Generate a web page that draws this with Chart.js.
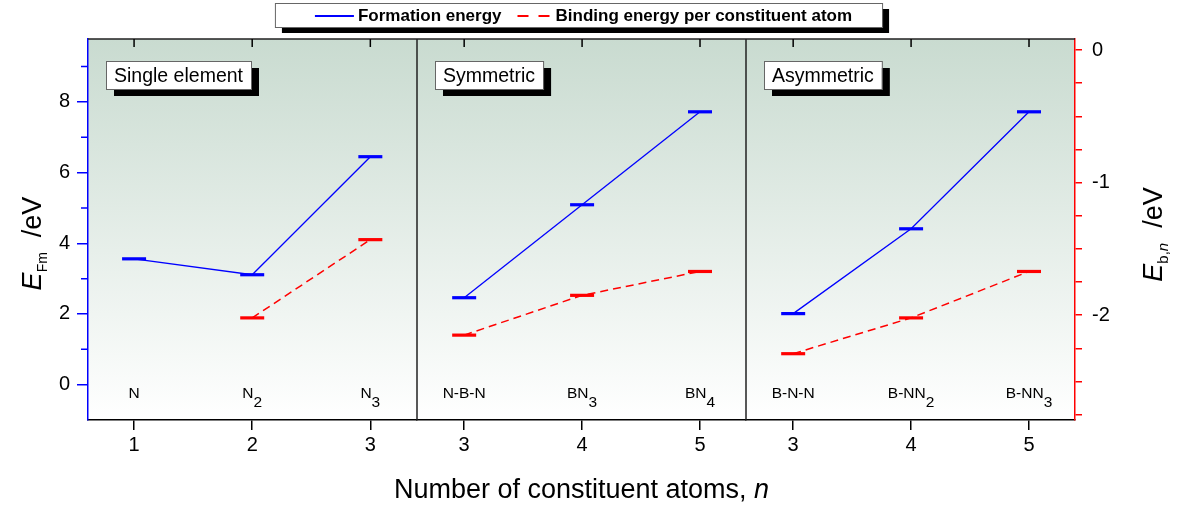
<!DOCTYPE html>
<html>
<head>
<meta charset="utf-8">
<script src="https://cdn.jsdelivr.net/npm/chart.js@4.4.3/dist/chart.umd.min.js"></script>
<style>
  html, body { margin: 0; padding: 0; background: #fff; }
</style>
</head>
<body>
<canvas id="energyChart" width="1178" height="507"></canvas>
<script>
// Cluster groups shown side by side
const panelNames = ['Single element', 'Symmetric', 'Asymmetric'];

// number of constituent atoms n in each group
const atomsSingle = [1, 2, 3];
const atomsSym = [3, 4, 5];
const atomsAsym = [3, 4, 5];

// species names (trailing digits are subscripts)
const speciesSingle = ['N', 'N2', 'N3'];
const speciesSym = ['N-B-N', 'BN3', 'BN4'];
const speciesAsym = ['B-N-N', 'B-NN2', 'B-NN3'];

// formation energy E_Fm, eV (left axis)
const formSingle = [3.56, 3.11, 6.45];
const formSym = [2.46, 5.09, 7.72];
const formAsym = [2.01, 4.41, 7.72];

// binding energy per constituent atom E_b,n, eV (right axis); none for a lone atom
const bindSingle = [null, -2.02, -1.43];
const bindSym = [-2.15, -1.85, -1.67];
const bindAsym = [-2.29, -2.02, -1.67];

const legendLabels = ['Formation energy', 'Binding energy per constituent atom'];
const xTitle = 'Number of constituent atoms, ';

const FONT = '"Liberation Sans", Arial, sans-serif';
const BLUE = '#0000ff';
const RED = '#ff0000';

const panelAtoms = [atomsSingle, atomsSym, atomsAsym];
const panelSpecies = [speciesSingle, speciesSym, speciesAsym];
const panelForm = [formSingle, formSym, formAsym];
const panelBind = [bindSingle, bindSym, bindAsym];
const panelRanges = [[0.61, 3.395], [2.6, 5.39], [2.6, 5.39]];

function points(xs, ys) {
  return xs.map((x, i) => ({ x: x, y: ys[i] }));
}

const datasets = [];
panelAtoms.forEach((atoms, i) => {
  datasets.push({
    label: legendLabels[0],
    data: points(atoms, panelForm[i]),
    xAxisID: 'x' + i,
    yAxisID: 'yF',
    borderColor: BLUE,
    borderWidth: 1.3,
    pointStyle: 'line',
    pointRadius: 12,
    pointBorderWidth: 3.2,
    pointBorderColor: BLUE
  });
  datasets.push({
    label: legendLabels[1],
    data: points(atoms, panelBind[i]),
    xAxisID: 'x' + i,
    yAxisID: 'yB',
    borderColor: RED,
    borderWidth: 1.5,
    borderDash: [8, 5],
    pointStyle: 'line',
    pointRadius: 12,
    pointBorderWidth: 3.2,
    pointBorderColor: RED
  });
});

function panelAxis(range) {
  return {
    type: 'linear',
    position: 'bottom',
    stack: 'panels',
    stackWeight: 1,
    min: range[0],
    max: range[1],
    border: { color: '#000', width: 1.5 },
    grid: { drawOnChartArea: false, color: '#000', lineWidth: 1.5, tickLength: 10 },
    ticks: {
      stepSize: 1, includeBounds: false, color: '#000', padding: 3, maxRotation: 0,
      font: { family: FONT, size: 20 }
    },
    afterFit: s => { s.height = 87; }
  };
}

// background gradient, frame, panel boxes, species labels, legend and titles
const decorations = {
  id: 'decorations',
  beforeDraw(chart) {
    const { ctx, chartArea: a } = chart;
    const g = ctx.createLinearGradient(0, a.top, 0, a.bottom);
    g.addColorStop(0, '#c9dbd0');
    g.addColorStop(1, '#ffffff');
    ctx.save();
    ctx.fillStyle = g;
    ctx.fillRect(a.left, a.top, a.right - a.left, a.bottom - a.top);
    ctx.restore();
  },
  afterDraw(chart) {
    const { ctx, chartArea: a } = chart;
    ctx.save();

    // top frame and panel dividers
    ctx.strokeStyle = '#222';
    ctx.lineWidth = 1.5;
    ctx.beginPath();
    ctx.moveTo(a.left, a.top);
    ctx.lineTo(a.right, a.top);
    for (let i = 1; i < panelNames.length; i++) {
      const s = chart.scales['x' + i];
      ctx.moveTo(s.left, a.top);
      ctx.lineTo(s.left, a.bottom);
    }
    ctx.stroke();

    // inward ticks along the top edge
    ctx.strokeStyle = '#000';
    ctx.beginPath();
    panelNames.forEach((_, i) => {
      const s = chart.scales['x' + i];
      s.ticks.forEach(t => {
        const x = s.getPixelForValue(t.value);
        ctx.moveTo(x, a.top);
        ctx.lineTo(x, a.top + 8);
      });
    });
    ctx.stroke();

    // minor ticks on the left axis
    const yF = chart.scales.yF;
    ctx.strokeStyle = BLUE;
    ctx.beginPath();
    for (let v = 1; v <= yF.max; v += 2) {
      const y = yF.getPixelForValue(v);
      ctx.moveTo(a.left - 7, y);
      ctx.lineTo(a.left, y);
    }
    ctx.stroke();

    // panel name boxes with drop shadow
    ctx.font = '19.5px ' + FONT;
    ctx.textBaseline = 'alphabetic';
    panelNames.forEach((name, i) => {
      const s = chart.scales['x' + i];
      const w = ctx.measureText(name).width + 16;
      const bx = s.left + 18, by = a.top + 22, bh = 28;
      ctx.fillStyle = '#000';
      ctx.fillRect(bx + 8, by + 7, w, bh);
      ctx.fillStyle = '#fff';
      ctx.fillRect(bx, by, w, bh);
      ctx.strokeStyle = '#666';
      ctx.lineWidth = 1;
      ctx.strokeRect(bx + 0.5, by + 0.5, w, bh);
      ctx.fillStyle = '#000';
      ctx.textAlign = 'left';
      ctx.fillText(name, bx + 8, by + 21);
    });

    // species labels under each column
    panelSpecies.forEach((list, i) => {
      const s = chart.scales['x' + i];
      list.forEach((text, k) => {
        const m = text.match(/^(.*?)(\d+)$/);
        const main = m ? m[1] : text;
        const sub = m ? m[2] : '';
        ctx.font = '15.5px ' + FONT;
        const w1 = ctx.measureText(main).width;
        const w2 = sub ? ctx.measureText(sub).width : 0;
        const cx = s.getPixelForValue(panelAtoms[i][k]);
        const y = a.bottom - 22;
        let x = cx - (w1 + w2) / 2;
        ctx.fillStyle = '#000';
        ctx.textAlign = 'left';
        ctx.fillText(main, x, y);
        if (sub) ctx.fillText(sub, x + w1, y + 9);
      });
    });

    // legend
    ctx.font = 'bold 17px ' + FONT;
    const t1 = ctx.measureText(legendLabels[0]).width;
    const t2 = ctx.measureText(legendLabels[1]).width;
    const total = 40 + 39 + 4 + t1 + 16 + 32 + 6 + t2 + 30;
    const lx = (a.left + a.right) / 2 - 3 - total / 2;
    const ly = 3, lh = 24;
    ctx.fillStyle = '#000';
    ctx.fillRect(lx + 7, ly + 6, total, lh);
    ctx.fillStyle = '#fff';
    ctx.fillRect(lx, ly, total, lh);
    ctx.strokeStyle = '#666';
    ctx.lineWidth = 1;
    ctx.strokeRect(lx + 0.5, ly + 0.5, total, lh);
    let cx = lx + 40;
    const midY = ly + 13;
    ctx.lineWidth = 2;
    ctx.strokeStyle = BLUE;
    ctx.beginPath();
    ctx.moveTo(cx, midY);
    ctx.lineTo(cx + 39, midY);
    ctx.stroke();
    cx += 43;
    ctx.fillStyle = '#000';
    ctx.textBaseline = 'middle';
    ctx.fillText(legendLabels[0], cx, midY);
    cx += t1 + 16;
    ctx.strokeStyle = RED;
    ctx.setLineDash([11, 10]);
    ctx.beginPath();
    ctx.moveTo(cx, midY);
    ctx.lineTo(cx + 32, midY);
    ctx.stroke();
    ctx.setLineDash([]);
    cx += 38;
    ctx.fillText(legendLabels[1], cx, midY);

    // axis titles
    ctx.textBaseline = 'alphabetic';
    drawRotatedTitle(ctx, 32, (a.top + a.bottom) / 2 + 14, [
      { t: 'E', f: 'italic 27px ' + FONT, dy: 0 },
      { t: 'Fm', f: '14px ' + FONT, dy: 6 },
      { t: '  /eV', f: '27px ' + FONT, dy: 0 }
    ]);
    drawRotatedTitle(ctx, 1153, (a.top + a.bottom) / 2 + 5, [
      { t: 'E', f: 'italic 27px ' + FONT, dy: 0 },
      { t: 'b,', f: '15px ' + FONT, dy: 6 },
      { t: 'n', f: 'italic 15px ' + FONT, dy: 6 },
      { t: '  /eV', f: '27px ' + FONT, dy: 0 }
    ]);

    ctx.font = '27px ' + FONT;
    const wa = ctx.measureText(xTitle).width;
    ctx.font = 'italic 27px ' + FONT;
    const wb = ctx.measureText('n').width;
    let tx = (a.left + a.right) / 2 - (wa + wb) / 2;
    ctx.fillStyle = '#000';
    ctx.textAlign = 'left';
    ctx.font = '27px ' + FONT;
    ctx.fillText(xTitle, tx, 498);
    ctx.font = 'italic 27px ' + FONT;
    ctx.fillText('n', tx + wa, 498);

    ctx.restore();
  }
};

// title read bottom to top, built from runs of different fonts
function drawRotatedTitle(ctx, x, y, runs) {
  let total = 0;
  runs.forEach(r => { ctx.font = r.f; r.w = ctx.measureText(r.t).width; total += r.w; });
  ctx.save();
  ctx.translate(x, y);
  ctx.rotate(-Math.PI / 2);
  ctx.fillStyle = '#000';
  ctx.textAlign = 'left';
  let px = -total / 2;
  runs.forEach(r => {
    ctx.font = r.f;
    ctx.fillText(r.t, px, r.dy + 9);
    px += r.w;
  });
  ctx.restore();
}

const scales = {};
panelRanges.forEach((r, i) => { scales['x' + i] = panelAxis(r); });
scales.yF = {
  type: 'linear',
  position: 'left',
  min: -1,
  max: 9.78,
  border: { color: BLUE, width: 1.5 },
  grid: { drawOnChartArea: false, color: BLUE, lineWidth: 1.5, tickLength: 11 },
  ticks: { stepSize: 2, includeBounds: false, color: '#000', padding: 7, font: { family: FONT, size: 20 } },
  afterFit: s => { s.width = 88; }
};
scales.yB = {
  type: 'linear',
  position: 'right',
  min: -2.79,
  max: 0.083,
  border: { color: RED, width: 1.5 },
  grid: { drawOnChartArea: false, color: RED, lineWidth: 1.5, tickLength: 7 },
  ticks: {
    stepSize: 0.25, includeBounds: false, color: '#000', padding: 10,
    font: { family: FONT, size: 20 },
    callback: v => Number.isInteger(v) ? String(v) : ''
  },
  afterFit: s => { s.width = 103; }
};

new Chart(document.getElementById('energyChart'), {
  type: 'line',
  data: { datasets: datasets },
  options: {
    responsive: false,
    animation: false,
    events: [],
    layout: { padding: { top: 39, left: 0, right: 0, bottom: 0 } },
    elements: { line: { tension: 0 } },
    scales: scales,
    plugins: { legend: { display: false }, tooltip: { enabled: false } }
  },
  plugins: [decorations]
});
</script>
</body>
</html>
